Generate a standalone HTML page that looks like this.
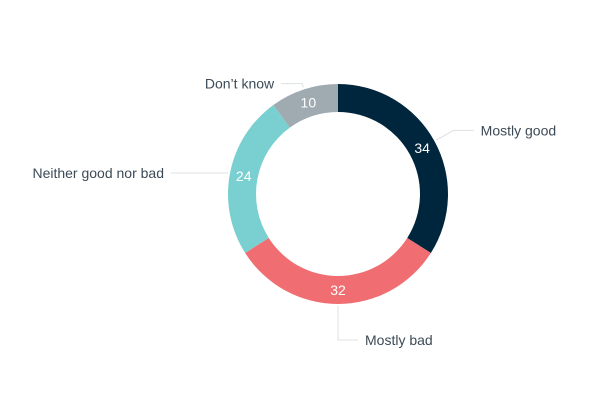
<!DOCTYPE html>
<html><head><meta charset="utf-8"><style>
body{margin:0;background:#fff;}
svg{display:block;font-family:"Liberation Sans",sans-serif;}
</style></head><body>
<svg id="chart" width="600" height="400" viewBox="0 0 600 400"></svg>
<script>
const categories=["Mostly good","Mostly bad","Neither good nor bad","Don’t know"];
const values=[34,32,24,10];
const colors=["#00263e","#f06e71","#7acfd0","#9faab1"];
const cx=338,cy=194,R=110,r=82;
const svg=document.getElementById('chart');
const NS="http://www.w3.org/2000/svg";
function mk(t,a){const e=document.createElementNS(NS,t);for(const k in a)e.setAttribute(k,a[k]);svg.appendChild(e);return e;}
const total=values.reduce((a,b)=>a+b,0);
function pt(ang,rad){return [cx+rad*Math.sin(ang),cy-rad*Math.cos(ang)];}
let start=0;
const mids=[];
values.forEach((v,i)=>{
  const a0=start/total*2*Math.PI,a1=(start+v)/total*2*Math.PI;start+=v;
  const large=(a1-a0)>Math.PI?1:0;
  const [x0,y0]=pt(a0,R),[x1,y1]=pt(a1,R),[x2,y2]=pt(a1,r),[x3,y3]=pt(a0,r);
  const p=mk('path',{d:`M${x0},${y0}A${R},${R} 0 ${large} 1 ${x1},${y1}L${x2},${y2}A${r},${r} 0 ${large} 0 ${x3},${y3}Z`,fill:colors[i]});
  
  
  const am=(a0+a1)/2;mids.push(am);
  const [lx,ly]=pt(am,(R+r)/2);
  const t=mk('text',{x:lx,y:ly+5,'text-anchor':'middle','font-size':14,fill:'#fff'});
  t.textContent=values[i];
  
  
});
// connector layout: elbow radius, horizontal length (signed)
const elbowR=[132,146,117,116];
const hLen=[20,20,-50,-21];
mids.forEach((am,i)=>{
  const [sx,sy]=pt(am,R+2);
  let ex,ey;
  if(i===2){ex=cx-elbowR[i];ey=sy;} else if(i===1){ex=sx;ey=cy+elbowR[i];} else {[ex,ey]=pt(am,elbowR[i]);}
  const hx=ex+hLen[i];
  const l=mk('path',{d:`M${sx},${sy}L${ex},${ey}L${hx},${ey}`,fill:'none',stroke:'#dde1e4','stroke-width':1});
  
  
  const right=hLen[i]>0;
  const t=mk('text',{x:hx+(right?7:-7),y:ey+5,'text-anchor':right?'start':'end','font-size':14,fill:'#3c4a57'});
  t.textContent=categories[i];
  
  
});
</script>
</body></html>
